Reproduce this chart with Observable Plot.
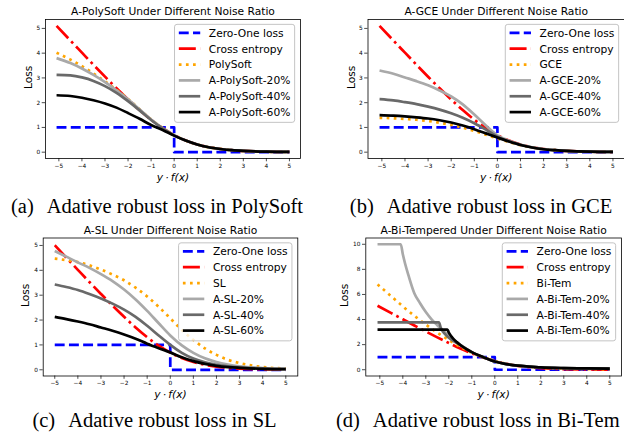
<!DOCTYPE html>
<html><head><meta charset="utf-8">
<script src="https://cdn.jsdelivr.net/npm/d3@7"></script>
<script src="https://cdn.jsdelivr.net/npm/@observablehq/plot@0.6"></script>
<style>
html,body{margin:0;padding:0;background:#fff;}
#fig{position:relative;width:624px;height:434px;overflow:hidden;background:#fff;}
.panel{position:absolute;}
.cap{position:absolute;font-family:"Liberation Serif","Times New Roman",serif;font-size:20.5px;line-height:1;white-space:nowrap;transform:translateX(-50%);color:#000;}
.cap .tag{margin-right:9px;}
</style></head><body><div id="fig"></div>
<script>
// ---------- data ----------
const xGrid51 = [-5.1,-4.5,-4,-3.5,-3,-2.5,-2,-1.5,-1,-0.5,0,0.5,1,1.5,2,2.5,3,4,5];
const xGrid50 = [-5,-4.5,-4,-3.5,-3,-2.5,-2,-1.5,-1,-0.5,0,0.5,1,1.5,2,2.5,3,4,5];
const xTicks = [-5,-4,-3,-2,-1,0,1,2,3,4,5];
const yTicks5 = [0,1,2,3,4,5];
const yTicks10 = [0,2,4,6,8,10];

const zeroOneX51 = [-5.1,0,0,5];
const zeroOneX50 = [-5,0,0,5];
const zeroOneY = [1,1,0,0];

const crossEntropy51 = [5.1,4.51,4.02,3.53,3.05,2.58,2.13,1.7,1.31,0.97,0.69,0.47,0.31,0.2,0.13,0.08,0.05,0.02,0.01];
const crossEntropy50 = [5.01,4.51,4.02,3.53,3.05,2.58,2.13,1.7,1.31,0.97,0.69,0.47,0.31,0.2,0.13,0.08,0.05,0.02,0.01];

// (a) PolySoft
const polySoft   = [4.02,3.74,3.48,3.18,2.86,2.52,2.15,1.73,1.32,0.97,0.69,0.47,0.31,0.2,0.13,0.08,0.05,0.02,0.01];
const aPolySoft20 = [3.8,3.6,3.38,3.12,2.83,2.5,2.14,1.73,1.32,0.97,0.68,0.47,0.31,0.2,0.13,0.08,0.05,0.02,0.01];
const aPolySoft40 = [3.12,3.1,3.02,2.88,2.67,2.4,2.06,1.69,1.3,0.96,0.68,0.47,0.31,0.2,0.13,0.08,0.05,0.02,0.01];
const aPolySoft60 = [2.3,2.27,2.2,2.1,1.97,1.8,1.58,1.35,1.1,0.9,0.67,0.47,0.31,0.2,0.13,0.08,0.05,0.02,0.01];

// (b) GCE
const gce    = [1.39,1.37,1.34,1.31,1.26,1.19,1.1,0.99,0.86,0.71,0.55,0.41,0.28,0.19,0.12,0.08,0.05,0.02,0.01];
const aGce20 = [3.3,3.17,3.02,2.87,2.7,2.49,2.25,1.93,1.52,1.08,0.68,0.46,0.3,0.2,0.13,0.08,0.05,0.02,0.01];
const aGce40 = [2.14,2.09,2.02,1.94,1.84,1.72,1.57,1.39,1.17,0.91,0.63,0.44,0.3,0.19,0.12,0.08,0.05,0.02,0.01];
const aGce60 = [1.5,1.48,1.45,1.41,1.36,1.29,1.2,1.08,0.93,0.76,0.59,0.43,0.29,0.19,0.12,0.08,0.05,0.02,0.01];

// (c) SL
const sl    = [4.47,4.41,4.33,4.2,4.03,3.83,3.6,3.3,2.95,2.53,2.07,1.6,1.2,0.86,0.6,0.4,0.27,0.11,0.05];
const aSl20 = [4.78,4.55,4.32,4.1,3.85,3.57,3.23,2.83,2.37,1.87,1.38,0.98,0.68,0.46,0.31,0.21,0.14,0.07,0.04];
const aSl40 = [3.43,3.33,3.21,3.05,2.87,2.66,2.42,2.13,1.77,1.38,1.0,0.68,0.45,0.3,0.2,0.14,0.1,0.05,0.03];
const aSl60 = [2.13,2.04,1.94,1.83,1.7,1.57,1.42,1.25,1.05,0.87,0.7,0.5,0.35,0.24,0.16,0.11,0.08,0.04,0.03];

// (d) Bi-Tempered
const biTem = [6.8,5.85,5.05,4.3,3.6,2.95,2.37,1.82,1.35,0.98,0.69,0.48,0.33,0.23,0.16,0.11,0.08,0.05,0.03];
const aBiTem20X = [-5.1,-4.09,-4,-3.9,-3.75,-3.5,-3.25,-3,-2.75,-2.5,-2.25,-2,-1.75,-1.5,-1,-0.5,0,0.5,1,1.5,2,3,4,5];
const aBiTem20  = [10,10,9.2,8.45,7.5,6.1,5.3,4.6,4.02,3.55,3.12,2.74,2.32,1.97,1.4,1.0,0.66,0.45,0.32,0.25,0.19,0.13,0.1,0.08];
const aBiTem40X = [-5.1,-2.43,-2.35,-2.25,-2.1,-2,-1.75,-1.5,-1,-0.5,0,0.5,1,1.5,2,3,4,5];
const aBiTem40  = [3.77,3.77,3.35,3.02,2.72,2.55,2.24,1.97,1.4,1.0,0.66,0.45,0.32,0.25,0.19,0.13,0.1,0.08];
const aBiTem60X = [-5.1,-2.06,-2,-1.9,-1.8,-1.65,-1.5,-1.25,-1,-0.5,0,0.5,1,1.5,2,3,4,5];
const aBiTem60  = [3.2,3.2,2.96,2.68,2.46,2.2,1.97,1.66,1.4,1.0,0.66,0.45,0.32,0.25,0.19,0.13,0.1,0.08];

const titles = ["A-PolySoft Under Different Noise Ratio","A-GCE Under Different Noise Ratio","A-SL Under Different Noise Ratio","A-Bi-Tempered Under Different Noise Ratio"];
const captions = [["(a)","Adative robust loss in PolySoft"],["(b)","Adative robust loss in GCE"],["(c)","Adative robust loss in SL"],["(d)","Adative robust loss in Bi-Tem"]];
const legendA = ["Zero-One loss","Cross entropy","PolySoft","A-PolySoft-20%","A-PolySoft-40%","A-PolySoft-60%"];
const legendB = ["Zero-One loss","Cross entropy","GCE","A-GCE-20%","A-GCE-40%","A-GCE-60%"];
const legendC = ["Zero-One loss","Cross entropy","SL","A-SL-20%","A-SL-40%","A-SL-60%"];
const legendD = ["Zero-One loss","Cross entropy","Bi-Tem","A-Bi-Tem-20%","A-Bi-Tem-40%","A-Bi-Tem-60%"];

// ---------- styles ----------
const LW = 2.7;
const styles = [
  {color:"#0000ff", dash:"9.9,4.3", curve:"linear"},
  {color:"#ff0000", dash:"17,4.3,2.7,4.3", curve:"monotone-x"},
  {color:"#ffa500", dash:"2.7,4.4", curve:"monotone-x"},
  {color:"#a9a9a9", dash:null, curve:"monotone-x"},
  {color:"#696969", dash:null, curve:"monotone-x"},
  {color:"#000000", dash:null, curve:"monotone-x"}
];

const panels = [
  {left:0, top:0, width:312, height:190, mL:45, mR:12, mT:19, mB:32, xDomain:[-5.58,5.48], yDomain:[-0.255,5.36], yTicks:yTicks5, ylabDx:-17, xlabDy:19,
   title:titles[0], legend:legendA,
   series:[[zeroOneX51,zeroOneY],[xGrid51,crossEntropy51],[xGrid51,polySoft],[xGrid51,aPolySoft20],[xGrid51,aPolySoft40],[xGrid51,aPolySoft60]]},
  {left:312, top:0, width:320, height:190, mL:55.5, mR:8, mT:19, mB:32, xDomain:[-5.6,5.5], yDomain:[-0.255,5.36], yTicks:yTicks5, ylabDx:-16.2, xlabDy:19,
   title:titles[1], legend:legendB,
   series:[[zeroOneX51,zeroOneY],[xGrid51,crossEntropy51],[xGrid51,gce],[xGrid51,aGce20],[xGrid51,aGce40],[xGrid51,aGce60]]},
  {left:0, top:218, width:312, height:182, mL:42.7, mR:14.7, mT:19.5, mB:24.5, xDomain:[-5.5,5.52], yDomain:[-0.25,5.3], yTicks:yTicks5, ylabDx:-17.7, xlabDy:18.5,
   title:titles[2], legend:legendC,
   series:[[zeroOneX50,zeroOneY],[xGrid50,crossEntropy50],[xGrid50,sl],[xGrid50,aSl20],[xGrid50,aSl40],[xGrid50,aSl60]]},
  {left:312, top:218, width:320, height:182, mL:53.3, mR:11, mT:19.5, mB:24.5, xDomain:[-5.61,5.51], yDomain:[-0.5,10.5], yTicks:yTicks10, ylabDx:-21.6, xlabDy:18.5,
   title:titles[3], legend:legendD,
   series:[[zeroOneX51,zeroOneY],[xGrid51,crossEntropy51],[xGrid51,biTem],[aBiTem20X,aBiTem20],[aBiTem40X,aBiTem40],[aBiTem60X,aBiTem60]]}
];
const captionPos = [{cx:157, top:195.8},{cx:481, top:195.8},{cx:154.5, top:409.8},{cx:477.8, top:409.8}];

const fig = document.getElementById("fig");
const FS = 10.7;
const tickFmt = d => (d < 0 ? "\u2212" + Math.abs(d) : String(d));

panels.forEach((p, k) => {
  const lineMarks = p.series.map(([xs, ys], i) => {
    const st = styles[i];
    const data = xs.map((x, j) => ({x, y: ys[j]}));
    const opts = {x: "x", y: "y", curve: st.curve, stroke: st.color, strokeWidth: LW, strokeLinecap: "butt", strokeLinejoin: "round"};
    if (st.dash) opts.strokeDasharray = st.dash;
    return Plot.line(data, opts);
  });
  const svg = Plot.plot({
    width: p.width, height: p.height,
    marginLeft: p.mL, marginRight: p.mR, marginTop: p.mT, marginBottom: p.mB,
    style: {fontFamily: "DejaVu Sans", fontSize: "5.8px", background: "none", maxWidth: "none", overflow: "visible", color: "#000"},
    x: {domain: p.xDomain},
    y: {domain: p.yDomain},
    marks: [
      ...lineMarks,
      Plot.frame({stroke: "#000", strokeWidth: 0.8}),
      Plot.axisX({ticks: xTicks, tickFormat: tickFmt, tickSize: 3.3, tickPadding: 2, strokeWidth: 0.7, fontSize: 5.8, label: null}),
      Plot.axisY({ticks: p.yTicks, tickFormat: tickFmt, tickSize: 3.3, tickPadding: 2, strokeWidth: 0.7, fontSize: 5.8, label: null}),
      Plot.text([p.title], {text: d => d, frameAnchor: "top", dy: -4.3, lineAnchor: "bottom", fontSize: FS, fontFamily: "DejaVu Sans"}),
      Plot.text(["Loss"], {text: d => d, frameAnchor: "left", dx: p.ylabDx, rotate: -90, lineAnchor: "middle", fontSize: FS, fontFamily: "DejaVu Sans"}),
      Plot.text(["y\u2009\u00b7\u2009f(x)"], {text: d => d, frameAnchor: "bottom", dy: p.xlabDy, lineAnchor: "middle", fontSize: FS, fontStyle: "italic", fontFamily: "DejaVu Sans"})
    ]
  });
  const div = document.createElement("div");
  div.className = "panel";
  div.style.left = p.left + "px";
  div.style.top = p.top + "px";
  div.style.width = p.width + "px";
  div.style.height = p.height + "px";
  div.appendChild(svg);
  fig.appendChild(div);

  // legend (matplotlib style, upper right inside axes)
  const fr = p.width - p.mR, ft = p.mT;
  const g = d3.select(svg).append("g").attr("text-anchor", "start");
  const rect = g.append("rect");
  const texts = p.legend.map(l => g.append("text").text(l)
      .attr("text-anchor", "start")
      .attr("font-family", "DejaVu Sans").attr("font-size", FS).attr("fill", "#000").attr("dy", "0.36em"));
  const tw = d3.max(texts, t => t.node().getComputedTextLength());
  const pad = 4.3, hl = 21.4, hp = 8.6, gap = 5.35, rowH = 15.85, first = 8.5, bh = 98;
  const bw = pad + hl + hp + tw + pad;
  const bx = fr - gap - bw, by = ft + gap;
  rect.attr("x", bx).attr("y", by).attr("width", bw).attr("height", bh).attr("rx", 2.5)
      .style("fill", "#ffffff").style("fill-opacity", 0.8).style("stroke", "#c4c4c4").style("stroke-width", 1);
  p.legend.forEach((l, i) => {
    const cy = by + first + rowH * i;
    const st = styles[i];
    const ln = g.insert("line", "text").attr("x1", bx + pad).attr("x2", bx + pad + hl).attr("y1", cy).attr("y2", cy)
      .style("stroke", st.color).style("stroke-width", LW).style("stroke-linecap", "butt");
    if (st.dash) ln.style("stroke-dasharray", st.dash);
    texts[i].attr("x", bx + pad + hl + hp).attr("y", cy);
  });

  const cap = document.createElement("div");
  cap.className = "cap";
  cap.style.left = captionPos[k].cx + "px";
  cap.style.top = captionPos[k].top + "px";
  const tag = document.createElement("span"); tag.className = "tag"; tag.textContent = captions[k][0];
  const txt = document.createElement("span"); txt.textContent = " " + captions[k][1];
  cap.appendChild(tag); cap.appendChild(txt);
  fig.appendChild(cap);
});
</script></body></html>
